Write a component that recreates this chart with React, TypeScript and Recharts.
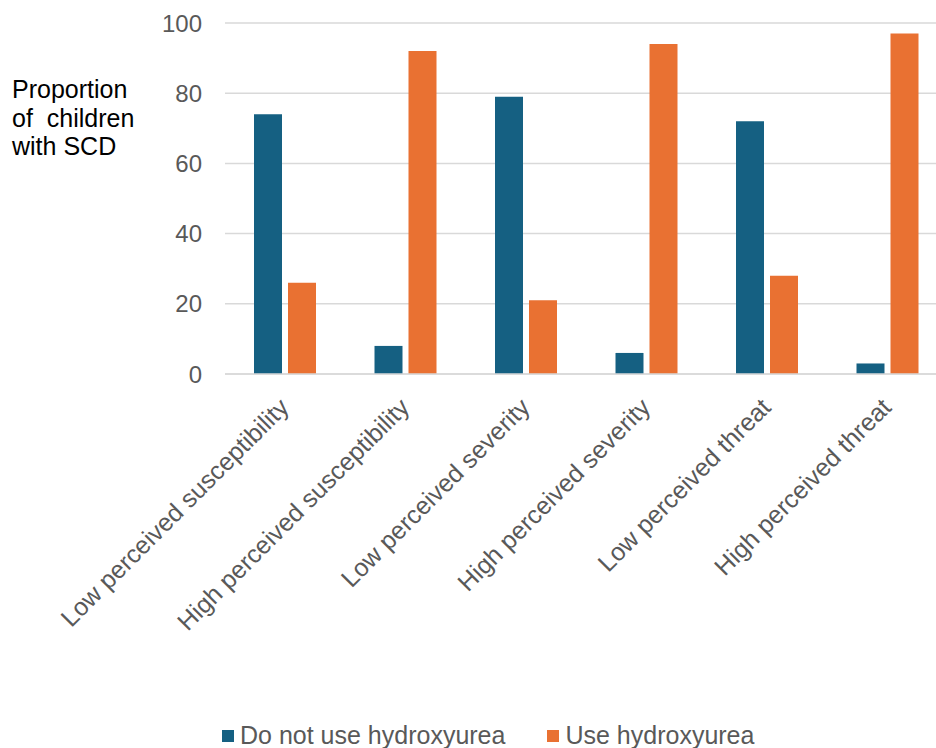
import React from 'react';
import { BarChart, Bar, XAxis, YAxis, CartesianGrid, Legend } from 'recharts';

const categories = [
  'Low perceived susceptibility',
  'High perceived susceptibility',
  'Low perceived severity',
  'High perceived severity',
  'Low perceived threat',
  'High perceived threat',
];
const doNotUse = [74, 8, 79, 6, 72, 3];
const useHu = [26, 92, 21, 94, 28, 97];
const yTicks = [0, 20, 40, 60, 80, 100];

const BLUE = '#156082';
const ORANGE = '#e97132';
const FONT = '"Liberation Sans", Arial, sans-serif';

const data = categories.map((c, i) => ({ name: c, notUse: doNotUse[i], use: useHu[i] }));

const AngledTick = ({ x, y, payload }: { x?: number; y?: number; payload?: { value: string } }) => (
  <g transform={`translate(${(x ?? 0) - 8},${(y ?? 0) + 14})`}>
    <text transform="rotate(-45)" textAnchor="end" dominantBaseline="hanging" fill="#595959" fontSize={25} fontFamily={FONT}>
      {payload?.value}
    </text>
  </g>
);

const AxisTitle = () => (
  <g fontFamily={FONT} fontSize={25} fill="#000">
    <text x={12} y={98}>Proportion</text>
    <text x={12} y={127} style={{ whiteSpace: 'pre' }}>{'of  children'}</text>
    <text x={12} y={155}>with SCD</text>
  </g>
);

const LegendContent = () => (
  <div style={{ display: 'flex', fontFamily: FONT, fontSize: 25, color: '#595959', paddingTop: 13, paddingLeft: 222, lineHeight: '29px' }}>
    <span style={{ display: 'flex', alignItems: 'center', marginRight: 42 }}>
      <span style={{ width: 12, height: 12, background: BLUE, marginRight: 6 }} />Do not use hydroxyurea
    </span>
    <span style={{ display: 'flex', alignItems: 'center' }}>
      <span style={{ width: 12, height: 12, background: ORANGE, marginRight: 6 }} />Use hydroxyurea
    </span>
  </div>
);

export default function App() {
  return (
    <div style={{ position: 'absolute', left: 0, top: 0, width: 936, height: 748, background: '#fff', overflow: 'hidden' }}>
      <BarChart width={936} height={748} data={data} margin={{ top: 23, right: -12, left: 0, bottom: 0 }}
        barGap={6} barSize={28}>
        <CartesianGrid vertical={false} stroke="#d9d9d9" strokeWidth={1.5} />
        <XAxis dataKey="name" height={334} interval={0} tick={<AngledTick />} tickLine={false}
          axisLine={{ stroke: '#d9d9d9', strokeWidth: 1.5 }} />
        <YAxis width={225} domain={[0, 100]} ticks={yTicks} axisLine={false} tickLine={false} tickMargin={17}
          tick={{ fill: '#595959', fontSize: 24, fontFamily: FONT }}
          label={{ content: <AxisTitle /> }} />
        <Legend verticalAlign="bottom" align="left" height={40} content={<LegendContent />} />
        <Bar dataKey="notUse" name="Do not use hydroxyurea" fill={BLUE} isAnimationActive={false} />
        <Bar dataKey="use" name="Use hydroxyurea" fill={ORANGE} isAnimationActive={false} />
      </BarChart>
    </div>
  );
}
